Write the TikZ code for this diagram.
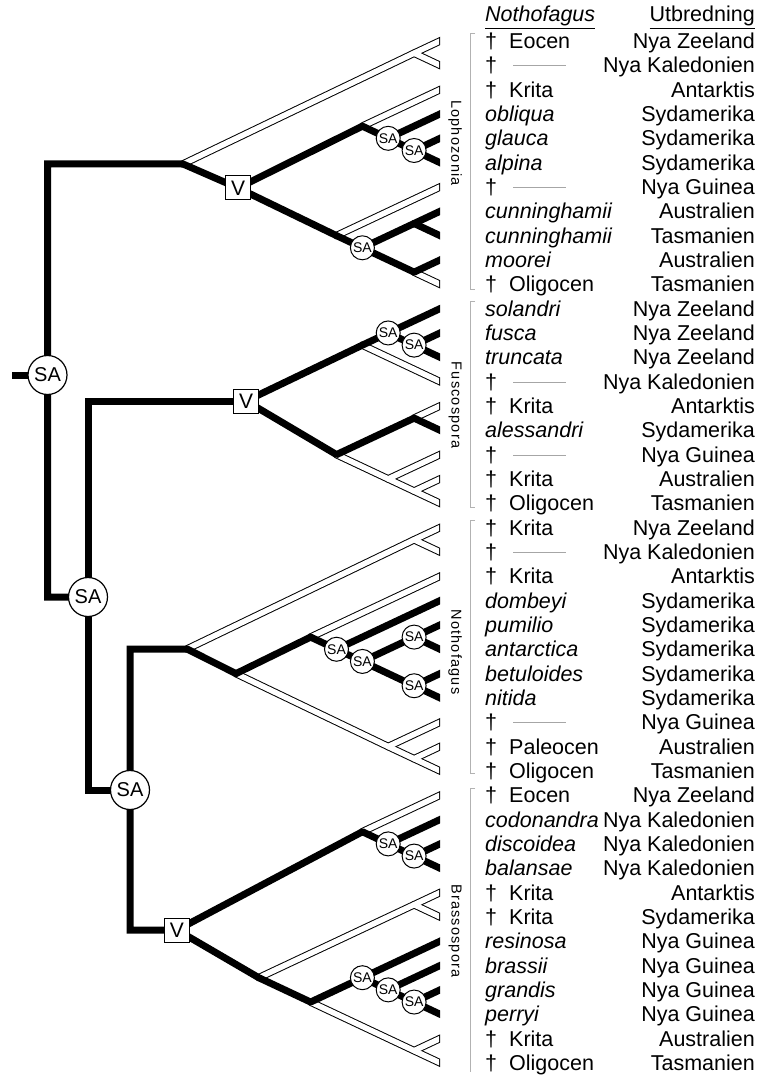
\documentclass[tikz,border=0pt]{standalone}
\usepackage{fontspec}
\setmainfont{Liberation Sans}
\newfontfamily\grpfont[LetterSpace=8]{Liberation Sans}
\newcommand\RY[1]{48.6+24.33*#1}
\newcommand\FosW[3]{%
  \node[lt] (d#1) at (485,{\RY{#1}}) {†};
  \node[lt] (w#1) at (509,{\RY{#1}}) {#2};
  \node[rt] (r#1) at (755,{\RY{#1}}) {#3};}
\newcommand\FosD[2]{%
  \node[lt] (d#1) at (485,{\RY{#1}}) {†};
  \draw[dashl] (513,{41.5+24.33*#1}) -- (566,{41.5+24.33*#1});
  \node[rt] (r#1) at (755,{\RY{#1}}) {#2};}
\newcommand\Sp[3]{%
  \node[it] (w#1) at (485,{\RY{#1}}) {#2};
  \node[rt] (r#1) at (755,{\RY{#1}}) {#3};}
\newcommand\HollowEdges[1]{%
  \draw[#1] (L0)--(LA)--(t0); \draw[#1] (LA)--(t1);
  \draw[#1] (LU)--(t2); \draw[#1] (LD)--(t6); \draw[#1] (LC)--(t10);
  \draw[#1] (FU)--(t14); \draw[#1] (FB)--(t15);
  \draw[#1] (FD)--(FE)--(FF)--(t19); \draw[#1] (FE)--(t17); \draw[#1] (FF)--(t18);
  \draw[#1] (N0)--(NA)--(t20); \draw[#1] (NA)--(t21); \draw[#1] (NU)--(t22);
  \draw[#1] (NL)--(NE)--(NF)--(t30); \draw[#1] (NE)--(t28); \draw[#1] (NF)--(t29);
  \draw[#1] (BU)--(t31); \draw[#1] (BD)--(BA)--(t35); \draw[#1] (BA)--(t36);
  \draw[#1] (BL)--(BF)--(t42); \draw[#1] (BF)--(t41);}
\begin{document}
\begin{tikzpicture}[x=1pt,y=-1pt,
  thk/.style={line width=7pt, line cap=round, line join=round, shorten >=-8pt},
  rect/.style={line width=7pt, line cap=butt, line join=miter},
  holB/.style={line width=7.5pt, line cap=round, line join=round, shorten >=-8pt},
  holW/.style={line width=5.5pt, white, line cap=round, line join=round, shorten >=-8pt},
  big/.style={circle, draw, line width=1.2pt, fill=white, minimum size=39pt, inner sep=0pt, font=\fontsize{20}{20}\selectfont},
  sml/.style={circle, draw, line width=1pt, fill=white, minimum size=24pt, inner sep=0pt, font=\fontsize{14}{14}\selectfont},
  vbox/.style={draw, line width=1pt, fill=white, minimum width=25pt, minimum height=24pt, inner sep=0pt, font=\fontsize{21}{21}\selectfont},
  lt/.style={anchor=base west, inner sep=0pt, font=\fontsize{21.5}{21.5}\selectfont},
  it/.style={anchor=base west, inner sep=0pt, font=\fontsize{21.5}{21.5}\selectfont\itshape},
  rt/.style={anchor=base east, inner sep=0pt, font=\fontsize{21.5}{21.5}\selectfont},
  dashl/.style={gray!70, line width=0.8pt},
  brk/.style={gray!60, line width=0.8pt},
  grp/.style={rotate=-90, inner sep=0pt, font=\fontsize{14.5}{14.5}\grpfont}]
\useasboundingbox (0,0) rectangle (766,1075);
\fill[white] (0,0) rectangle (766,1075);
% tips
\foreach \i in {0,...,42} \coordinate (t\i) at (440,{41+24.33*\i});
% rectangular part
\coordinate (stub) at (12,375);
\coordinate (R) at (47.5,375);
\coordinate (c1) at (47.5,164);
\coordinate (c2) at (47.5,597);
\coordinate (S2) at (88,597);
\coordinate (c3) at (88,401);
\coordinate (c4) at (88,790);
\coordinate (S3) at (130,790);
\coordinate (c5) at (130,649);
\coordinate (c6) at (130,930);
% Lophozonia
\coordinate (L0) at (183,164);
\coordinate (LA) at (414.1,53.17);
\coordinate (LV) at (238,188);
\coordinate (LU) at (362.4,126.16);
\coordinate (LS1) at (388.2,138.32);
\coordinate (LS2) at (414.1,150.49);
\coordinate (LD) at (336.5,235.64);
\coordinate (LS3) at (362.4,247.8);
\coordinate (LB) at (414.1,223.48);
\coordinate (LC) at (414.1,272.14);
% Fuscospora
\coordinate (FV) at (246,401);
\coordinate (FU) at (362.4,345.13);
\coordinate (FS1) at (388.2,332.96);
\coordinate (FS2) at (414.1,345.13);
\coordinate (FD) at (336.5,454.61);
\coordinate (FB) at (414.1,418.12);
\coordinate (FE) at (388.2,478.94);
\coordinate (FF) at (414.1,491.1);
% Nothofagus
\coordinate (N0) at (187,649);
\coordinate (NA) at (414.1,539.77);
\coordinate (NL) at (236,673.6);
\coordinate (NU) at (310.6,637.09);
\coordinate (NS1) at (336.5,649.25);
\coordinate (NS2) at (362.4,661.42);
\coordinate (NS3) at (414.1,637.09);
\coordinate (NS4) at (414.1,685.75);
\coordinate (NE) at (388.2,746.57);
\coordinate (NF) at (414.1,758.74);
% Brassospora
\coordinate (BV) at (177,930);
\coordinate (BU) at (362.4,831.73);
\coordinate (BS1) at (388.2,843.89);
\coordinate (BS2) at (414.1,856.06);
\coordinate (BD) at (258.8,977.71);
\coordinate (BA) at (414.1,904.72);
\coordinate (BL) at (310.6,1002.04);
\coordinate (BS3) at (362.4,977.71);
\coordinate (BS4) at (388.2,989.87);
\coordinate (BS5) at (414.1,1002.04);
\coordinate (BF) at (414.1,1050.7);
% hollow lineages
\begin{scope}
  \clip (0,0) rectangle (440,1075);
  \HollowEdges{holB}
\end{scope}
\begin{scope}
  \clip (0,0) rectangle (439,1075);
  \HollowEdges{holW}
\end{scope}
% thick lineages
\begin{scope}
  \clip (0,0) rectangle (440,1075);
  \draw[rect] (stub) -- (R);
  \draw[rect] (LV) -- (L0) -- (c1) -- (c2) -- (S2);
  \draw[rect] (FV) -- (c3) -- (c4) -- (S3);
  \draw[rect] (NL) -- (N0) -- (c5) -- (c6) -- (BV);
  \draw[thk] (LV)--(LU)--(LS1)--(t3); \draw[thk] (LS1)--(LS2)--(t4); \draw[thk] (LS2)--(t5);
  \draw[thk] (LV)--(LD)--(LS3)--(LB)--(t7); \draw[thk] (LB)--(t8); \draw[thk] (LS3)--(LC)--(t9);
  \draw[thk] (FV)--(FU)--(FS1)--(t11); \draw[thk] (FS1)--(FS2)--(t12); \draw[thk] (FS2)--(t13);
  \draw[thk] (FV)--(FD)--(FB)--(t16);
  \draw[thk] (NL)--(NU)--(NS1)--(t23); \draw[thk] (NS1)--(NS2)--(NS3)--(t24); \draw[thk] (NS3)--(t25);
  \draw[thk] (NS2)--(NS4)--(t26); \draw[thk] (NS4)--(t27);
  \draw[thk] (BV)--(BU)--(BS1)--(t32); \draw[thk] (BS1)--(BS2)--(t33); \draw[thk] (BS2)--(t34);
  \draw[thk] (BV)--(BD)--(BL)--(BS3)--(t37); \draw[thk] (BS3)--(BS4)--(t38);
  \draw[thk] (BS4)--(BS5)--(t39); \draw[thk] (BS5)--(t40);
\end{scope}
% event nodes
\node[big] (nR) at (R) {SA};
\node[big] (nS2) at (S2) {SA};
\node[big] (nS3) at (S3) {SA};
\node[vbox] (nLV) at (LV) {V};
\node[vbox] (nFV) at (FV) {V};
\node[vbox] (nBV) at (BV) {V};
\node[sml] (nLS1) at (LS1) {SA};
\node[sml] (nLS2) at (LS2) {SA};
\node[sml] (nLS3) at (LS3) {SA};
\node[sml] (nFS1) at (FS1) {SA};
\node[sml] (nFS2) at (FS2) {SA};
\node[sml] (nNS1) at (NS1) {SA};
\node[sml] (nNS2) at (NS2) {SA};
\node[sml] (nNS3) at (NS3) {SA};
\node[sml] (nNS4) at (NS4) {SA};
\node[sml] (nBS1) at (BS1) {SA};
\node[sml] (nBS2) at (BS2) {SA};
\node[sml] (nBS3) at (BS3) {SA};
\node[sml] (nBS4) at (BS4) {SA};
\node[sml] (nBS5) at (BS5) {SA};
% brackets and group labels
\draw[brk] (475,33) -- (470,33) -- (470,289) -- (475,289);
\draw[brk] (475,301) -- (470,301) -- (470,507) -- (475,507);
\draw[brk] (475,520) -- (470,520) -- (470,773) -- (475,773);
\draw[brk] (475,788) -- (470,788) -- (470,1072);
\node[grp] (gL) at (455,143) {Lophozonia};
\node[grp] (gF) at (455,405) {Fuscospora};
\node[grp] (gN) at (455,652) {Nothofagus};
\node[grp] (gB) at (455,931) {Brassospora};
% headers
\node[it] (h1) at (485,22) {\underline{Nothofagus}};
\node[rt] (h2) at (755,22) {\underline{Utbredning}};
% rows
\FosW{0}{Eocen}{Nya Zeeland}
\FosD{1}{Nya Kaledonien}
\FosW{2}{Krita}{Antarktis}
\Sp{3}{obliqua}{Sydamerika}
\Sp{4}{glauca}{Sydamerika}
\Sp{5}{alpina}{Sydamerika}
\FosD{6}{Nya Guinea}
\Sp{7}{cunninghamii}{Australien}
\Sp{8}{cunninghamii}{Tasmanien}
\Sp{9}{moorei}{Australien}
\FosW{10}{Oligocen}{Tasmanien}
\Sp{11}{solandri}{Nya Zeeland}
\Sp{12}{fusca}{Nya Zeeland}
\Sp{13}{truncata}{Nya Zeeland}
\FosD{14}{Nya Kaledonien}
\FosW{15}{Krita}{Antarktis}
\Sp{16}{alessandri}{Sydamerika}
\FosD{17}{Nya Guinea}
\FosW{18}{Krita}{Australien}
\FosW{19}{Oligocen}{Tasmanien}
\FosW{20}{Krita}{Nya Zeeland}
\FosD{21}{Nya Kaledonien}
\FosW{22}{Krita}{Antarktis}
\Sp{23}{dombeyi}{Sydamerika}
\Sp{24}{pumilio}{Sydamerika}
\Sp{25}{antarctica}{Sydamerika}
\Sp{26}{betuloides}{Sydamerika}
\Sp{27}{nitida}{Sydamerika}
\FosD{28}{Nya Guinea}
\FosW{29}{Paleocen}{Australien}
\FosW{30}{Oligocen}{Tasmanien}
\FosW{31}{Eocen}{Nya Zeeland}
\Sp{32}{codonandra}{Nya Kaledonien}
\Sp{33}{discoidea}{Nya Kaledonien}
\Sp{34}{balansae}{Nya Kaledonien}
\FosW{35}{Krita}{Antarktis}
\FosW{36}{Krita}{Sydamerika}
\Sp{37}{resinosa}{Nya Guinea}
\Sp{38}{brassii}{Nya Guinea}
\Sp{39}{grandis}{Nya Guinea}
\Sp{40}{perryi}{Nya Guinea}
\FosW{41}{Krita}{Australien}
\FosW{42}{Oligocen}{Tasmanien}
\end{tikzpicture}
\end{document}
